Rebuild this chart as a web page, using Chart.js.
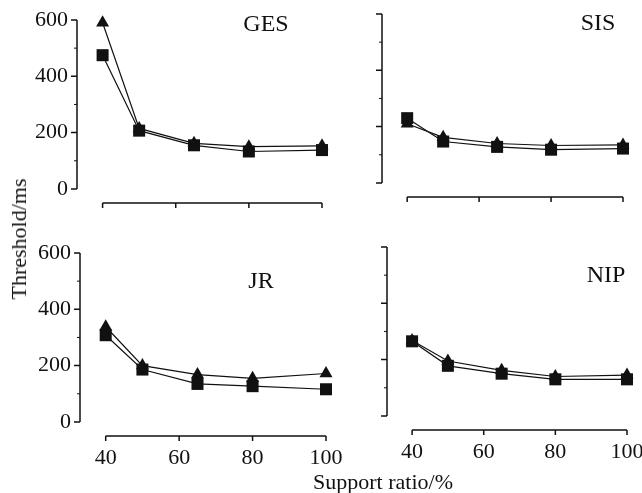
<!DOCTYPE html>
<html>
<head>
<meta charset="utf-8">
<script src="https://cdn.jsdelivr.net/npm/chart.js@4.4.1/dist/chart.umd.min.js"></script>
<style>
    body { margin: 0; background: #fff; }
    #wrap { position: relative; width: 642px; height: 493px; overflow: hidden; }
    .panel { position: absolute; }
    .lbl {
        position: absolute;
        font-family: "Liberation Serif", serif;
        color: #111;
        line-height: 1;
        white-space: nowrap;
        transform: translate(-50%, -50%);
    }
</style>
</head>
<body>
<div id="wrap">
    <div class="panel" id="p-ges"><canvas id="c-ges"></canvas></div>
    <div class="panel" id="p-sis"><canvas id="c-sis"></canvas></div>
    <div class="panel" id="p-jr"><canvas id="c-jr"></canvas></div>
    <div class="panel" id="p-nip"><canvas id="c-nip"></canvas></div>

    <div class="lbl" style="left:266px; top:23px; font-size:24px;">GES</div>
    <div class="lbl" style="left:598px; top:22px; font-size:24px;">SIS</div>
    <div class="lbl" style="left:261px; top:280px; font-size:24px;">JR</div>
    <div class="lbl" style="left:606px; top:274px; font-size:24px;">NIP</div>

    <div class="lbl" style="left:19px; top:239px; font-size:22px; transform: translate(-50%, -50%) rotate(-90deg);">Threshold/ms</div>
    <div class="lbl" style="left:383px; top:482px; font-size:22px;">Support ratio/%</div>
</div>

<script>
// support ratio (%)
const supportRatio = [40, 50, 65, 80, 100];

// threshold (ms), triangles and squares per subject
const gesTriangle = [590, 215, 162, 150, 153];
const gesSquare = [475, 207, 155, 133, 138];
const sisTriangle = [210, 162, 140, 133, 135];
const sisSquare = [230, 147, 128, 118, 122];
const jrTriangle = [338, 200, 168, 155, 172];
const jrSquare = [308, 186, 135, 127, 116];
const nipTriangle = [268, 195, 162, 140, 145];
const nipSquare = [265, 178, 150, 130, 130];

const xTicks = [40, 60, 80, 100];
const yTicks = [0, 200, 400, 600];
const yMinor = [100, 300, 500];

const INK = "#111";
const Y_W = 50;
const X_H = 40;
// bigger than the label overflow chart.js asks for, so the plot area stays put
const PAD_TOP = 24;
const PAD_RIGHT = 32;

// y from 0 to 600, x from 40 to 100, the two not touching
const axisLines = {
    id: "axisLines",
    afterDatasetsDraw(chart) {
        const { ctx, chartArea, scales } = chart;
        const x = scales.x;
        const y = scales.y;
        const left = chartArea.left;
        const bottom = chartArea.bottom;

        ctx.save();
        ctx.strokeStyle = INK;
        ctx.lineWidth = 1.5;
        ctx.beginPath();
        ctx.moveTo(left, y.getPixelForValue(600));
        ctx.lineTo(left, y.getPixelForValue(0));
        yTicks.forEach((v) => {
            const p = y.getPixelForValue(v);
            ctx.moveTo(left, p);
            ctx.lineTo(left - 6, p);
        });
        ctx.moveTo(x.getPixelForValue(40), bottom);
        ctx.lineTo(x.getPixelForValue(100), bottom);
        xTicks.forEach((v) => {
            const p = x.getPixelForValue(v);
            ctx.moveTo(p, bottom);
            ctx.lineTo(p, bottom + 5);
        });
        ctx.stroke();

        ctx.lineWidth = 1;
        ctx.beginPath();
        yMinor.forEach((v) => {
            const p = y.getPixelForValue(v);
            ctx.moveTo(left, p);
            ctx.lineTo(left - 3, p);
        });
        ctx.stroke();
        ctx.restore();
    },
};

function series(values, style, radius) {
    return {
        data: supportRatio.map((x, i) => ({ x, y: values[i] })),
        showLine: true,
        borderColor: INK,
        borderWidth: 1.2,
        backgroundColor: INK,
        pointStyle: style,
        pointRadius: radius,
        pointBorderWidth: 0,
        clip: false,
    };
}

function initPanel(key, area, triangles, squares, showY, showX) {
    const box = document.getElementById("p-" + key);
    box.style.left = area.left - Y_W + "px";
    box.style.top = area.top - PAD_TOP + "px";
    box.style.width = area.right - area.left + Y_W + PAD_RIGHT + "px";
    box.style.height = area.bottom - area.top + PAD_TOP + X_H + "px";

    const font = { family: "'Liberation Serif', serif", size: 22 };

    new Chart(document.getElementById("c-" + key), {
        type: "scatter",
        data: {
            datasets: [series(squares, "rect", 8.5), series(triangles, "triangle", 7.5)],
        },
        options: {
            responsive: true,
            maintainAspectRatio: false,
            animation: false,
            layout: { padding: { top: PAD_TOP, right: PAD_RIGHT } },
            plugins: { legend: { display: false }, tooltip: { enabled: false } },
            scales: {
                x: {
                    type: "linear",
                    min: 33,
                    max: 100,
                    afterBuildTicks(scale) {
                        scale.ticks = xTicks.map((v) => ({ value: v }));
                    },
                    afterFit(scale) {
                        scale.height = X_H;
                    },
                    grid: { display: false, drawTicks: false },
                    border: { display: false },
                    ticks: { display: showX, font, color: INK, padding: 9, maxRotation: 0 },
                },
                y: {
                    min: -50,
                    max: 600,
                    afterBuildTicks(scale) {
                        scale.ticks = yTicks.map((v) => ({ value: v }));
                    },
                    afterFit(scale) {
                        scale.width = Y_W;
                    },
                    grid: { display: false, drawTicks: false },
                    border: { display: false },
                    ticks: { display: showY, font, color: INK, padding: 9 },
                },
            },
        },
        plugins: [axisLines],
    });
}

initPanel("ges", { left: 77, right: 322, top: 20, bottom: 203 }, gesTriangle, gesSquare, true, false);
initPanel("sis", { left: 382, right: 623, top: 14, bottom: 197 }, sisTriangle, sisSquare, false, false);
initPanel("jr", { left: 80, right: 326, top: 253, bottom: 436 }, jrTriangle, jrSquare, true, true);
initPanel("nip", { left: 387, right: 627, top: 247, bottom: 430 }, nipTriangle, nipSquare, false, true);
</script>
</body>
</html>
